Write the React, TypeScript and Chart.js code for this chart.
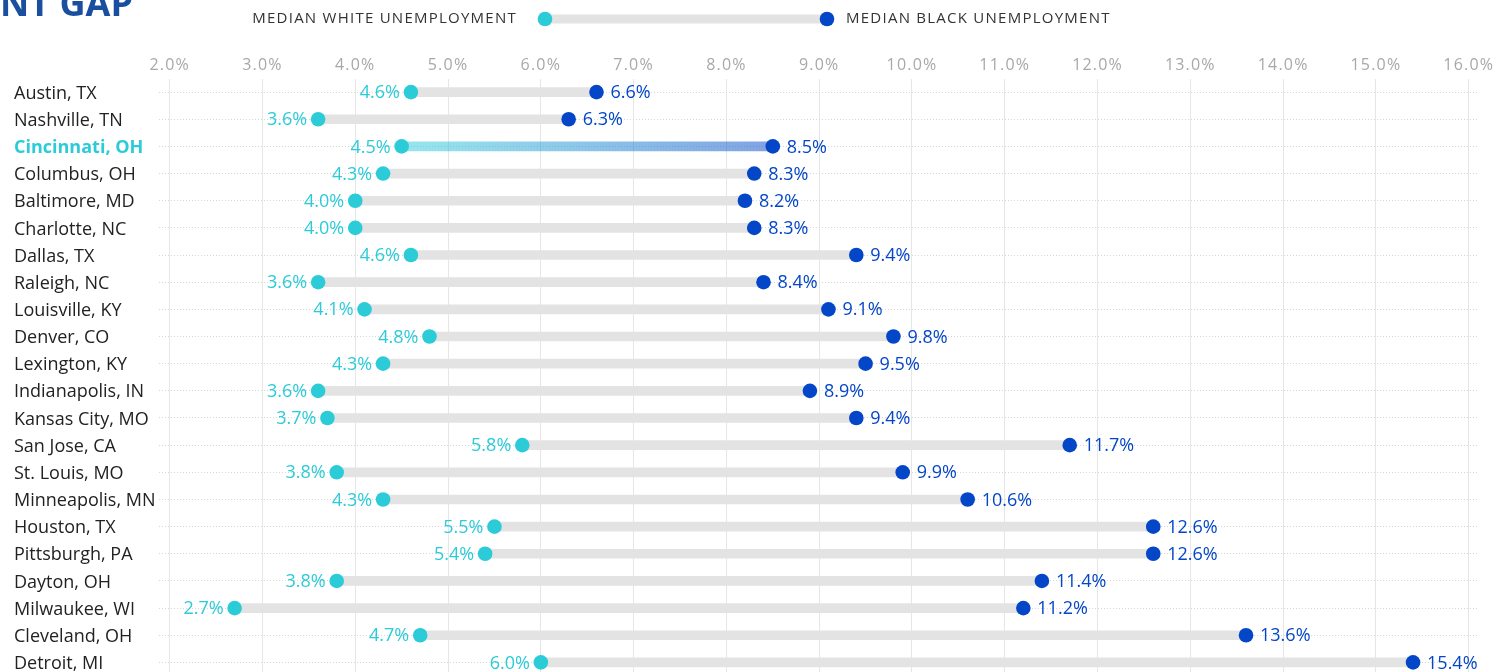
import React, { useEffect, useRef } from "react";
import { Chart, registerables } from "chart.js";

Chart.register(...registerables);

const cities = [
  "Austin, TX", "Nashville, TN", "Cincinnati, OH", "Columbus, OH", "Baltimore, MD",
  "Charlotte, NC", "Dallas, TX", "Raleigh, NC", "Louisville, KY", "Denver, CO",
  "Lexington, KY", "Indianapolis, IN", "Kansas City, MO", "San Jose, CA", "St. Louis, MO",
  "Minneapolis, MN", "Houston, TX", "Pittsburgh, PA", "Dayton, OH", "Milwaukee, WI",
  "Cleveland, OH", "Detroit, MI",
];
const whiteRates = [4.6, 3.6, 4.5, 4.3, 4.0, 4.0, 4.6, 3.6, 4.1, 4.8, 4.3, 3.6, 3.7, 5.8, 3.8, 4.3, 5.5, 5.4, 3.8, 2.7, 4.7, 6.0];
const blackRates = [6.6, 6.3, 8.5, 8.3, 8.2, 8.3, 9.4, 8.4, 9.1, 9.8, 9.5, 8.9, 9.4, 11.7, 9.9, 10.6, 12.6, 12.6, 11.4, 11.2, 13.6, 15.4];
const xTicks = [2, 3, 4, 5, 6, 7, 8, 9, 10, 11, 12, 13, 14, 15, 16];
const highlightCity = "Cincinnati, OH";
const legendWhite = "MEDIAN WHITE UNEMPLOYMENT";
const legendBlack = "MEDIAN BLACK UNEMPLOYMENT";
const titleText = "UNEMPLOYMENT GAP";

const FONT = "'Open Sans', Lato, sans-serif";
const CYAN = "#2ccbd8";
const BLUE = "#0446c8";
const GRAY_BAR = "#e3e3e3";

export default function App() {
  const ref = useRef<HTMLCanvasElement | null>(null);

  useEffect(() => {
    if (!ref.current) return;
    const hi = cities.indexOf(highlightCity);

    const overlay = {
      id: "overlay",
      afterDatasetsDraw(chart: any) {
        const ctx = chart.ctx;
        const wMeta = chart.getDatasetMeta(1);
        const bMeta = chart.getDatasetMeta(2);
        ctx.save();
        ctx.font = `18px ${FONT}`;
        ctx.textBaseline = "middle";
        wMeta.data.forEach((p: any, i: number) => {
          ctx.fillStyle = CYAN;
          ctx.textAlign = "right";
          ctx.fillText(whiteRates[i].toFixed(1) + "%", p.x - 11, p.y + 1);
        });
        bMeta.data.forEach((p: any, i: number) => {
          ctx.fillStyle = BLUE;
          ctx.textAlign = "left";
          ctx.fillText(blackRates[i].toFixed(1) + "%", p.x + 14, p.y + 1);
        });
        ctx.restore();
      },
      afterDraw(chart: any) {
        const ctx = chart.ctx;
        ctx.save();
        // x tick labels
        const xs = chart.scales.x;
        ctx.font = `16px ${FONT}`;
        (ctx as any).letterSpacing = "1.2px";
        ctx.fillStyle = "#a8a8a8";
        ctx.textAlign = "center";
        ctx.textBaseline = "middle";
        xTicks.forEach((v) => {
          ctx.fillText(v.toFixed(1) + "%", xs.getPixelForValue(v), 65);
        });
        (ctx as any).letterSpacing = "0px";
        // title (clipped at top-left)
        ctx.font = `bold 36px ${FONT}`;
        ctx.fillStyle = "#1a4f9f";
        ctx.textAlign = "right";
        ctx.textBaseline = "alphabetic";
        ctx.fillText(titleText, 133, 16);
        // legend
        const ly = 19;
        ctx.fillStyle = GRAY_BAR;
        ctx.fillRect(545, ly - 4.5, 827 - 545, 9);
        ctx.fillStyle = CYAN;
        ctx.beginPath();
        ctx.arc(545, ly, 7.3, 0, Math.PI * 2);
        ctx.fill();
        ctx.fillStyle = BLUE;
        ctx.beginPath();
        ctx.arc(827, ly, 7.3, 0, Math.PI * 2);
        ctx.fill();
        ctx.font = `15px ${FONT}`;
        (ctx as any).letterSpacing = "1.25px";
        ctx.fillStyle = "#333333";
        ctx.textBaseline = "middle";
        ctx.textAlign = "right";
        ctx.fillText(legendWhite, 517, ly);
        ctx.textAlign = "left";
        ctx.fillText(legendBlack, 846, ly);
        (ctx as any).letterSpacing = "0px";
        ctx.restore();
      },
    };

    const chart = new Chart(ref.current, {
      type: "bar",
      data: {
        labels: cities,
        datasets: [
          {
            type: "bar",
            data: cities.map((_, i) => [whiteRates[i], blackRates[i]]) as any,
            backgroundColor: (c: any) => {
              if (c.dataIndex !== hi) return GRAY_BAR;
              const xs = c.chart.scales.x;
              if (!xs) return GRAY_BAR;
              const g = c.chart.ctx.createLinearGradient(
                xs.getPixelForValue(whiteRates[hi]), 0,
                xs.getPixelForValue(blackRates[hi]), 0
              );
              g.addColorStop(0, "rgba(47,207,220,0.5)");
              g.addColorStop(1, "rgba(4,70,200,0.5)");
              return g;
            },
            barThickness: 9,
            borderWidth: 0,
            borderSkipped: false,
            order: 3,
          } as any,
          {
            type: "line",
            data: cities.map((c, i) => ({ x: whiteRates[i], y: c })) as any,
            showLine: false,
            pointRadius: 7.3,
            pointHoverRadius: 7.3,
            pointBackgroundColor: CYAN,
            pointBorderWidth: 0,
            order: 1,
          } as any,
          {
            type: "line",
            data: cities.map((c, i) => ({ x: blackRates[i], y: c })) as any,
            showLine: false,
            pointRadius: 7.3,
            pointHoverRadius: 7.3,
            pointBackgroundColor: BLUE,
            pointBorderWidth: 0,
            order: 0,
          } as any,
        ],
      },
      options: {
        indexAxis: "y",
        responsive: false,
        animation: false,
        events: [],
        layout: { padding: { left: 14, right: 22, top: 0, bottom: 14 } },
        plugins: { legend: { display: false }, tooltip: { enabled: false } },
        scales: {
          x: {
            type: "linear",
            position: "top",
            min: 1.885,
            max: 16.1,
            afterBuildTicks: (s: any) => {
              s.ticks = xTicks.map((v) => ({ value: v }));
            },
            afterFit: (s: any) => {
              s.height = 78.5;
            },
            grid: { color: "#e6e6e6", lineWidth: 1, drawTicks: false },
            border: { display: false },
            ticks: { display: false },
          },
          y: {
            type: "category",
            labels: cities,
            offset: true,
            afterFit: (s: any) => {
              s.width = 145;
            },
            grid: { offset: false, color: "#d6d6d6", lineWidth: 1, drawTicks: false },
            border: { display: false, dash: [1, 2] },
            ticks: {
              crossAlign: "far",
              padding: 0,
              labelOffset: 1.5,
              autoSkip: false,
              color: (c: any) => (c.index === hi ? CYAN : "#222222"),
              font: (c: any) => ({ family: FONT, size: 18, weight: c.index === hi ? "bold" : "normal" }),
            },
          },
        },
      } as any,
      plugins: [overlay],
    });
    return () => chart.destroy();
  }, []);

  return (
    <div style={{ position: "fixed", left: 0, top: 0, width: 1500, height: 690, background: "#fff" }}>
      <canvas ref={ref} width={1500} height={690} />
    </div>
  );
}
